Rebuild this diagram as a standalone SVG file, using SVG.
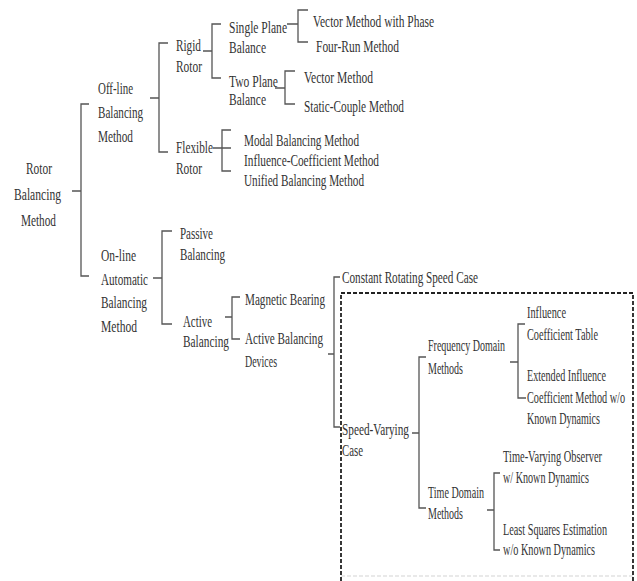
<svg xmlns="http://www.w3.org/2000/svg" width="637" height="581" viewBox="0 0 637 581">
<style>
text{font-family:"Liberation Serif","Times New Roman",serif;font-size:17px;fill:#333}
.c path{fill:none;stroke:#555;stroke-width:1.3}
.box{fill:none;stroke:#222;stroke-width:1.8;stroke-dasharray:4 2}
.faint{fill:none;stroke:#e2e2e2;stroke-width:1.5;stroke-dasharray:4 2}
</style>
<rect width="637" height="581" fill="#fff"/>
<path class="box" d="M341,581 V293 H633 V581"/>
<path class="faint" d="M341,576 H633"/>
<g id="root">
<text x="26" y="174" textLength="26" lengthAdjust="spacingAndGlyphs">Rotor</text>
<text x="14" y="200" textLength="47" lengthAdjust="spacingAndGlyphs">Balancing</text>
<text x="21" y="226" textLength="35" lengthAdjust="spacingAndGlyphs">Method</text>
</g>
<g id="offline">
<text x="98" y="94" textLength="35" lengthAdjust="spacingAndGlyphs">Off-line</text>
<text x="98" y="118" textLength="45" lengthAdjust="spacingAndGlyphs">Balancing</text>
<text x="98" y="142" textLength="35" lengthAdjust="spacingAndGlyphs">Method</text>
</g>
<g id="rigid">
<text x="176" y="51" textLength="25" lengthAdjust="spacingAndGlyphs">Rigid</text>
<text x="176" y="72" textLength="26" lengthAdjust="spacingAndGlyphs">Rotor</text>
</g>
<g id="single">
<text x="229" y="33" textLength="58" lengthAdjust="spacingAndGlyphs">Single Plane</text>
<text x="229" y="53" textLength="37" lengthAdjust="spacingAndGlyphs">Balance</text>
</g>
<g id="two">
<text x="229" y="87" textLength="49" lengthAdjust="spacingAndGlyphs">Two Plane</text>
<text x="229" y="105" textLength="37" lengthAdjust="spacingAndGlyphs">Balance</text>
</g>
<g id="vecphase"><text x="313" y="27" textLength="121" lengthAdjust="spacingAndGlyphs">Vector Method with Phase</text></g>
<g id="fourrun"><text x="316" y="52" textLength="83" lengthAdjust="spacingAndGlyphs">Four-Run Method</text></g>
<g id="vector"><text x="304" y="83" textLength="69" lengthAdjust="spacingAndGlyphs">Vector Method</text></g>
<g id="static"><text x="304" y="112" textLength="100" lengthAdjust="spacingAndGlyphs">Static-Couple Method</text></g>
<g id="flexible">
<text x="176" y="153" textLength="37" lengthAdjust="spacingAndGlyphs">Flexible</text>
<text x="176" y="174" textLength="26" lengthAdjust="spacingAndGlyphs">Rotor</text>
</g>
<g id="modal"><text x="244" y="146" textLength="115" lengthAdjust="spacingAndGlyphs">Modal Balancing Method</text></g>
<g id="influence"><text x="244" y="166" textLength="135" lengthAdjust="spacingAndGlyphs">Influence-Coefficient Method</text></g>
<g id="unified"><text x="244" y="186" textLength="120" lengthAdjust="spacingAndGlyphs">Unified Balancing Method</text></g>
<g id="online">
<text x="101" y="261" textLength="35" lengthAdjust="spacingAndGlyphs">On-line</text>
<text x="101" y="285" textLength="47" lengthAdjust="spacingAndGlyphs">Automatic</text>
<text x="101" y="308" textLength="46" lengthAdjust="spacingAndGlyphs">Balancing</text>
<text x="101" y="332" textLength="36" lengthAdjust="spacingAndGlyphs">Method</text>
</g>
<g id="passive">
<text x="180" y="239" textLength="33" lengthAdjust="spacingAndGlyphs">Passive</text>
<text x="180" y="260" textLength="45" lengthAdjust="spacingAndGlyphs">Balancing</text>
</g>
<g id="active">
<text x="183" y="327" textLength="29" lengthAdjust="spacingAndGlyphs">Active</text>
<text x="183" y="347" textLength="46" lengthAdjust="spacingAndGlyphs">Balancing</text>
</g>
<g id="magnetic"><text x="245" y="305" textLength="80" lengthAdjust="spacingAndGlyphs">Magnetic Bearing</text></g>
<g id="devices">
<text x="245" y="344" textLength="78" lengthAdjust="spacingAndGlyphs">Active Balancing</text>
<text x="245" y="367" textLength="32" lengthAdjust="spacingAndGlyphs">Devices</text>
</g>
<g id="constant"><text x="342" y="283" textLength="136" lengthAdjust="spacingAndGlyphs">Constant Rotating Speed Case</text></g>
<g id="speedvarying">
<text x="342" y="435" textLength="67" lengthAdjust="spacingAndGlyphs">Speed-Varying</text>
<text x="342" y="456" textLength="21" lengthAdjust="spacingAndGlyphs">Case</text>
</g>
<g id="frequency">
<text x="428" y="351" textLength="77" lengthAdjust="spacingAndGlyphs">Frequency Domain</text>
<text x="428" y="374" textLength="35" lengthAdjust="spacingAndGlyphs">Methods</text>
</g>
<g id="ictable">
<text x="527" y="318" textLength="39" lengthAdjust="spacingAndGlyphs">Influence</text>
<text x="527" y="340" textLength="71" lengthAdjust="spacingAndGlyphs">Coefficient Table</text>
</g>
<g id="extended">
<text x="527" y="381" textLength="79" lengthAdjust="spacingAndGlyphs">Extended Influence</text>
<text x="527" y="403" textLength="98" lengthAdjust="spacingAndGlyphs">Coefficient Method w/o</text>
<text x="527" y="424" textLength="73" lengthAdjust="spacingAndGlyphs">Known Dynamics</text>
</g>
<g id="timedomain">
<text x="428" y="498" textLength="56" lengthAdjust="spacingAndGlyphs">Time Domain</text>
<text x="428" y="519" textLength="35" lengthAdjust="spacingAndGlyphs">Methods</text>
</g>
<g id="observer">
<text x="503" y="462" textLength="99" lengthAdjust="spacingAndGlyphs">Time-Varying Observer</text>
<text x="503" y="483" textLength="86" lengthAdjust="spacingAndGlyphs">w/ Known Dynamics</text>
</g>
<g id="leastsquares">
<text x="503" y="535" textLength="104" lengthAdjust="spacingAndGlyphs">Least Squares Estimation</text>
<text x="503" y="555" textLength="92" lengthAdjust="spacingAndGlyphs">w/o Known Dynamics</text>
</g>
<g id="connectors" class="c">
<path d="M72,191 H81 M89,104 H81 V276 H89"/>
<path d="M150,98 H159 M168,43 H159 V152 H168"/>
<path d="M203,51 H212 M221,24 H212 V78 H221"/>
<path d="M287,24 H298 M308,10 H298 V42 H308"/>
<path d="M275,88 H285 M295,71 H285 V104 H295"/>
<path d="M213,148 H231 M231,130 H222 V171 H231"/>
<path d="M153,278 H162 M172,231 H162 V324 H172"/>
<path d="M225,317 H232 M240,297 H232 V339 H240"/>
<path d="M328,354 H334 M340,277 H334 V427 H340"/>
<path d="M412,433 H419 M426,357 H419 V508 H426"/>
<path d="M510,362 H518 M525,324 H518 V398 H526"/>
<path d="M487,510 H494 M500,473 H494 V550 H500"/>
</g>
</svg>
